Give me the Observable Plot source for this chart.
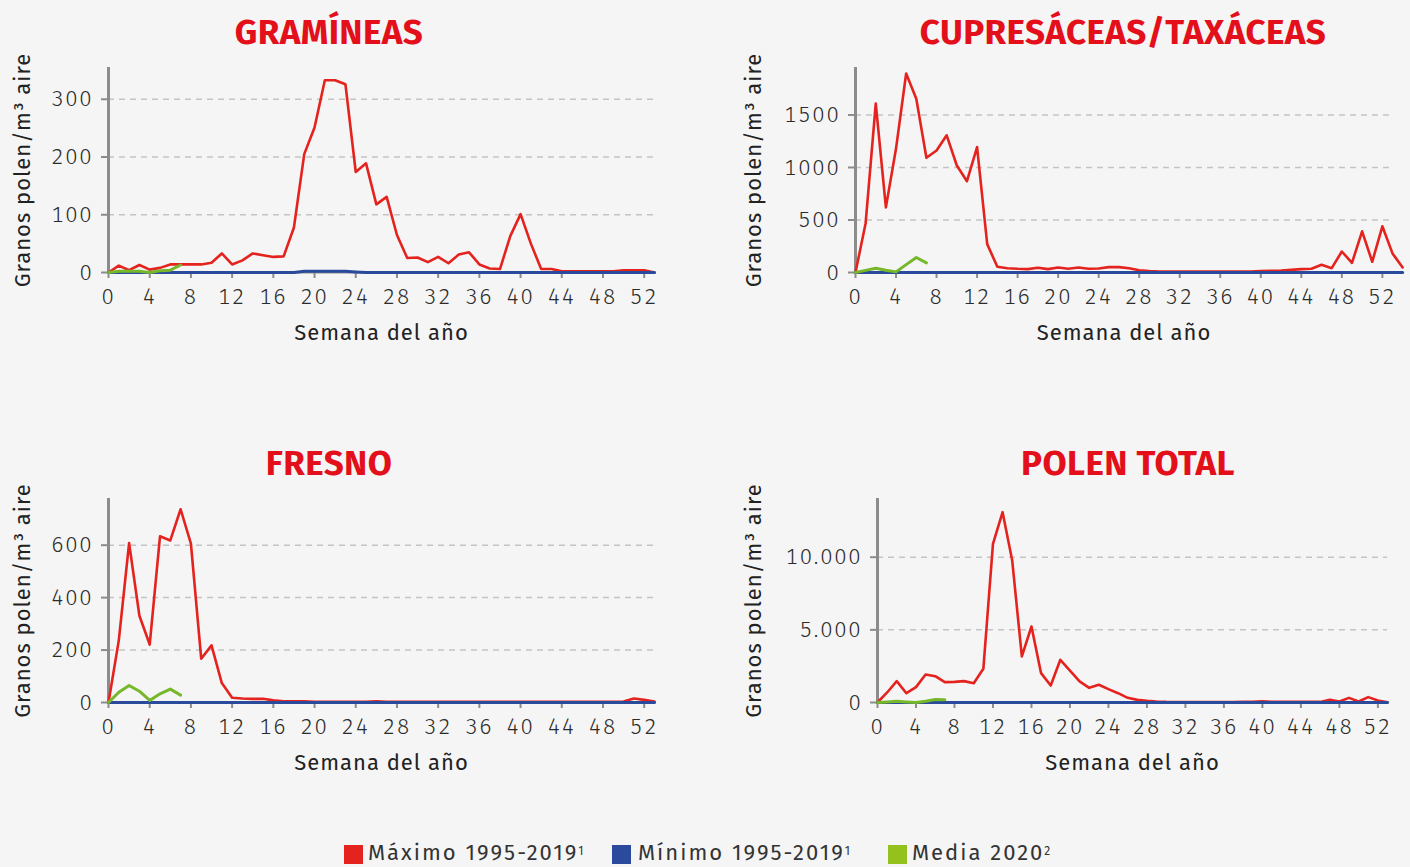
<!DOCTYPE html>
<html><head><meta charset="utf-8">
<script src="https://cdn.jsdelivr.net/npm/d3@7"></script>
<script src="https://cdn.jsdelivr.net/npm/@observablehq/plot@0.6"></script>
<style>
html,body{margin:0;padding:0;background:#f5f5f5;}
#page{position:relative;width:1410px;height:867px;background:#f5f5f5;overflow:hidden;font-family:"Fira Sans","Open Sans",sans-serif;}
.panel{position:absolute;}
.title{position:absolute;transform:translateX(-50%);font-family:"Fira Sans","Roboto",sans-serif;font-weight:700;font-size:35px;line-height:35px;letter-spacing:0.4px;color:#e30f1a;white-space:nowrap;}
.leg{position:absolute;top:842px;font-size:22px;line-height:22px;color:#333;letter-spacing:2px;white-space:nowrap;}
.leg sup{font-size:12px;vertical-align:top;letter-spacing:0;position:relative;top:-2px;}
.sw{position:absolute;top:845px;width:19px;height:19px;}
svg text{letter-spacing:1px;}
svg [aria-label="x-axis tick label"] text, svg [aria-label="y-axis tick label"] text{letter-spacing:1.8px;font-weight:300;}
</style></head>
<body><div id="page"></div>
<script>
// ---- data ----
const xTicks = [0,4,8,12,16,20,24,28,32,36,40,44,48,52];
const xLabel = "Semana del año";
const yLabel = "Granos polen/m³ aire";
const titles = ["GRAMÍNEAS","CUPRESÁCEAS/TAXÁCEAS","FRESNO","POLEN TOTAL"];
const seriesNames = ["Máximo 1995-2019","Mínimo 1995-2019","Media 2020"];
const seriesNotes = ["1","1","2"];

const gramineasMax = [0,12,4,13,5,8,14,14,14,14, 17,33,14,21,33,30,27,28,78,205, 251,333,333,326,174,189,118,131,65,25, 26,18,27,16,31,35,14,7,6,63, 101,50,6,6,2,2,2,2,2,2, 4,4,4,0];
const gramineasMin = [0,0,0,0,0,0,0,0,0,0, 0,0,0,0,0,0,0,0,0,2, 2,2,2,2,1,0,0,0,0,0, 0,0,0,0,0,0,0,0,0,0, 0,0,0,0,0,0,0,0,0,0, 0,0,0,0];
const gramineasMedia = [0,2,2,2,0,3,4,13];

const cupresaceasMax = [0,470,1608,620,1180,1895,1655,1092,1162,1306, 1019,869,1194,270,54,41,35,32,45,32, 48,35,48,35,38,51,51,41,22,13, 10,10,10,10,10,8,8,8,8,10, 13,16,19,25,32,35,73,41,200,92, 392,102,440,182,48];
const cupresaceasMin = [0,0,0,0,0,0,0,0,0,0, 0,0,0,0,0,0,0,0,0,0, 0,0,0,0,0,0,0,0,0,0, 0,0,0,0,0,0,0,0,0,0, 0,0,0,0,0,0,0,0,0,0, 0,0,0,0,0];
const cupresaceasMedia = [0,20,41,22,6,75,143,92];

const fresnoMax = [0,237,608,331,221,634,618,737,606,167, 218,74,18,15,14,14,8,5,5,5, 3,3,3,3,3,3,5,3,3,3, 3,3,3,3,3,3,3,3,3,3, 3,3,3,3,3,3,3,3,3,3, 4,15,10,4];
const fresnoMin = [0,0,0,0,0,0,0,0,0,0, 0,0,0,0,0,0,0,0,0,0, 0,0,0,0,0,0,0,0,0,0, 0,0,0,0,0,0,0,0,0,0, 0,0,0,0,0,0,0,0,0,0, 0,0,0,0];
const fresnoMedia = [0,39,65,43,8,33,51,28];

const totalMax = [0,690,1470,640,1060,1930,1810,1400,1420,1470, 1330,2320,10920,13100,9770,3170,5230,2020,1170,2940, 2200,1450,1010,1220,920,640,320,180,115,70, 45,35,30,30,30,30,30,30,40,50, 90,40,40,40,40,40,40,180,70,320, 70,370,140,20];
const totalMin = [0,0,0,0,0,0,0,0,0,0, 0,0,0,0,0,0,0,0,0,0, 0,0,0,0,0,0,0,0,0,0, 0,0,0,0,0,0,0,0,0,0, 0,0,0,0,0,0,0,0,0,0, 0,0,0,0];
const totalMedia = [0,40,80,40,0,90,200,190];

const yTicksGram = [0,100,200,300];
const yTicksCupr = [0,500,1000,1500];
const yTicksFres = [0,200,400,600];
const yTicksTot = [0,5000,10000];

const colors = ["#e4231f","#2a4b9b","#76b82a"];
const legendColors = ["#e4231f","#2a4b9b","#95c11f"];

// ---- drawing ----
const es = d3.formatLocale({decimal:",", thousands:".", grouping:[3], currency:["","€"]}).format(",");
const toRows = arr => arr.map((v,i) => ({week:i, value:v}));
const page = document.getElementById("page");

function panel(cfg){
  const p = Plot.plot({
    width: cfg.width, height: cfg.height,
    marginLeft: cfg.ml, marginRight: cfg.mr, marginTop: cfg.mt, marginBottom: cfg.mb,
    style: {background:"transparent", fontFamily:'"Fira Sans","Open Sans",sans-serif', fontSize:"22px", color:"#333", overflow:"visible"},
    x: {domain:[0,53]},
    y: {domain: cfg.yDomain},
    marks: [
      Plot.ruleY(cfg.yTicks.filter(d=>d>0), {stroke:"#c4c4c4", strokeWidth:1.5, strokeDasharray:"6,5"}),
      Plot.ruleY([0], {stroke:"#8c8c8c", strokeWidth:2}),
      Plot.axisX({ticks:xTicks, tickSize:6, tickPadding:10, stroke:"#8c8c8c", strokeWidth:2, fill:"#2b2b2b", tickFormat:d=>String(d), label:null}),
      Plot.axisY({ticks:cfg.yTicks, tickSize:7, tickPadding:8, stroke:"#8c8c8c", strokeWidth:2, fill:"#2b2b2b", tickFormat:cfg.fmt, label:null}),
      Plot.ruleX([0], {stroke:"#8c8c8c", strokeWidth:3}),
      Plot.line(toRows(cfg.max), {x:"week", y:"value", stroke:colors[0], strokeWidth:2.6}),
      Plot.line(toRows(cfg.min), {x:"week", y:"value", stroke:colors[1], strokeWidth:3}),
      Plot.line(toRows(cfg.media), {x:"week", y:"value", stroke:colors[2], strokeWidth:3}),
      Plot.text([xLabel], {text:d=>d, frameAnchor:"bottom", dy:67, fontSize:22, fill:"#222"}),
      Plot.text([yLabel], {text:d=>d, frameAnchor:"left", textAnchor:"middle", rotate:-90, dx:cfg.ylDx, fontSize:22, fill:"#222"})
    ]
  });
  p.classList.add("panel");
  p.style.left = cfg.left + "px";
  p.style.top = cfg.top + "px";
  page.appendChild(p);
}

panel({left:0, top:0, width:705, height:380, ml:108, mr:51, mt:67, mb:108, yDomain:[0,355], yTicks:yTicksGram, fmt:d=>String(d), max:gramineasMax, min:gramineasMin, media:gramineasMedia, ylDx:-86});
panel({left:705, top:0, width:705, height:380, ml:150, mr:18, mt:67, mb:108, yDomain:[0,1952], yTicks:yTicksCupr, fmt:d=>String(d), max:cupresaceasMax, min:cupresaceasMin, media:cupresaceasMedia, ylDx:-102});
panel({left:0, top:430, width:705, height:380, ml:108, mr:51, mt:68, mb:108, yDomain:[0,778], yTicks:yTicksFres, fmt:d=>String(d), max:fresnoMax, min:fresnoMin, media:fresnoMedia, ylDx:-86});
panel({left:705, top:430, width:705, height:380, ml:172, mr:23, mt:68, mb:108, yDomain:[0,14040], yTicks:yTicksTot, fmt:d=>es(d), max:totalMax, min:totalMin, media:totalMedia, ylDx:-124});

// titles
const titlePos = [[329,15],[1123,15],[329,446],[1128,446]];
titles.forEach((t,i)=>{
  const d = document.createElement("div");
  d.className = "title"; d.textContent = t;
  d.style.left = titlePos[i][0]+"px"; d.style.top = titlePos[i][1]+"px";
  page.appendChild(d);
});

// legend
const legPos = [[344,368],[612,638],[888,912]];
seriesNames.forEach((n,i)=>{
  const s = document.createElement("div");
  s.className = "sw"; s.style.left = legPos[i][0]+"px"; s.style.background = legendColors[i];
  page.appendChild(s);
  const t = document.createElement("div");
  t.className = "leg"; t.style.left = legPos[i][1]+"px";
  t.textContent = n;
  const sp = document.createElement("sup"); sp.textContent = seriesNotes[i];
  t.appendChild(sp);
  page.appendChild(t);
});
</script>
</body></html>
